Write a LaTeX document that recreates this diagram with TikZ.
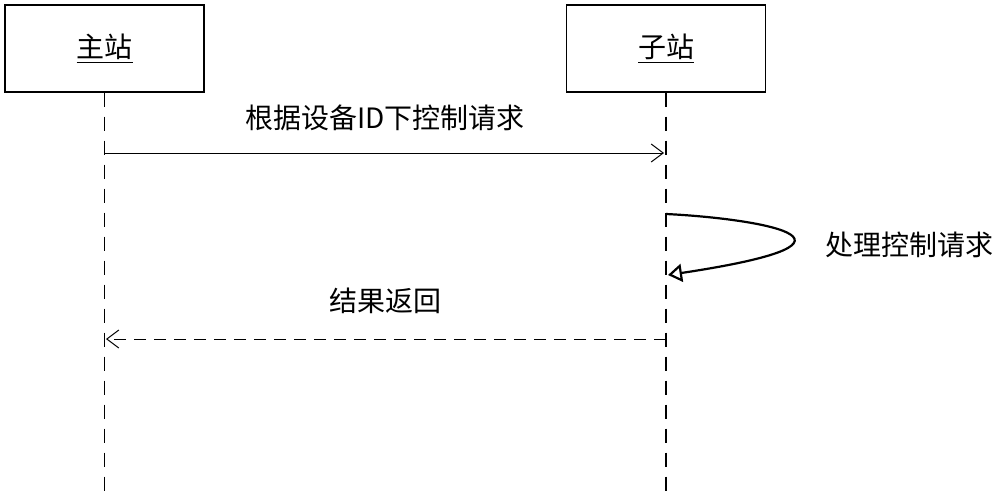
\documentclass[tikz,border=0pt]{standalone}
\usepackage{fontspec}
\setmainfont{Noto Sans CJK SC}
\usetikzlibrary{arrows.meta}
\begin{document}
\begin{tikzpicture}[x=0.5pt,y=-0.5pt,
  box/.style={draw,line width=0.6pt,minimum width=99.5pt,minimum height=43.5pt,inner sep=0pt},
  life/.style={dashed,dash pattern=on 7pt off 5pt,line width=0.6pt},
  msg/.style={line width=0.5pt,-{Straight Barb[length=6pt,width=9pt]}},
  lbl/.style={font=\fontsize{14}{16}\selectfont}]
\path[use as bounding box] (0,0) rectangle (1000,498);
\node[box] (m) at (104.5,48.5) {\fontsize{14}{16}\selectfont\underline{主站}};
\node[box] (s) at (666,48.5) {\fontsize{14}{16}\selectfont\underline{子站}};
\coordinate (mb) at (104.5,498);
\coordinate (sb) at (666,498);
\draw[life] (m.south) -- (mb);
\draw[life] (s.south) -- (sb);
\coordinate (a1) at (104.5,153); \coordinate (a2) at (664,153);
\draw[msg] (a1) -- (a2);
\node[lbl] (t1) at (385,118) {根据设备ID下控制请求};
\coordinate (l1) at (666,214); \coordinate (l2) at (668,275);
\draw[line width=1.1pt,-{Triangle[open,length=7pt,width=9pt]}] (l1) .. controls (750,218) and (900,240) .. (l2);
\node[lbl,anchor=west] (t2) at (818,245) {处理控制请求};
\coordinate (r1) at (666,339); \coordinate (r2) at (106,339);
\draw[msg,dashed,dash pattern=on 6pt off 4pt] (r1) -- (r2);
\node[lbl] (t3) at (385,301) {结果返回};
\end{tikzpicture}
\end{document}
